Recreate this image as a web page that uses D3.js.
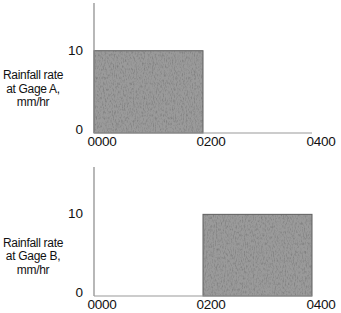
<!DOCTYPE html>
<html>
<head>
<meta charset="utf-8">
<script src="https://cdn.jsdelivr.net/npm/d3@7"></script>
<style>
  body { margin: 0; background: #fff; }
  text { font-family: "Liberation Sans", Arial, sans-serif; fill: #111; }
</style>
</head>
<body>
<div id="vis"></div>
<script>
// tick labels along the time axis (hours)
const timeTicks = [0, 2, 4];
const timeLabels = ["0000", "0200", "0400"];
const rateTicks = [0, 10];

// rainfall blocks: start hour, end hour, rate mm/hr
const gages = ["A", "B"];
const blockStart = [0, 2];
const blockEnd = [2, 4];
const blockRate = [10, 10];

const W = 341, H = 313;
const svg = d3.select("#vis").append("svg")
  .attr("width", W).attr("height", H);

// speckled print texture for the bars
const defs = svg.append("defs");
const f = defs.append("filter").attr("id", "grain")
  .attr("x", 0).attr("y", 0).attr("width", 1).attr("height", 1);
f.append("feTurbulence").attr("type", "fractalNoise")
  .attr("baseFrequency", "0.9 0.35").attr("numOctaves", 2).attr("seed", 3)
  .attr("result", "noise");
f.append("feColorMatrix").attr("in", "noise").attr("type", "matrix")
  .attr("values", "0 0 0 0 0  0 0 0 0 0  0 0 0 0 0  0.8 0 0 0 -0.35")
  .attr("result", "dark");
f.append("feComposite").attr("in", "dark").attr("in2", "SourceGraphic")
  .attr("operator", "atop");

// layout of the two panels
const panels = [
  { top: 3, bottom: 133, titleDy: -12.5 },
  { top: 167, bottom: 296, titleDy: -8.5 }
];

const x = d3.scaleLinear().domain([0, 4]).range([94, 312]);

gages.forEach((g, i) => {
  const p = panels[i];
  const y = d3.scaleLinear().domain([0, 15.8]).range([p.bottom, p.top]);
  const grp = svg.append("g");

  // bar
  grp.append("rect")
    .attr("x", x(blockStart[i]))
    .attr("y", y(blockRate[i]))
    .attr("width", x(blockEnd[i]) - x(blockStart[i]))
    .attr("height", y(0) - y(blockRate[i]))
    .attr("fill", "#9a9a9a")
    .attr("filter", "url(#grain)");
  grp.append("rect")
    .attr("x", x(blockStart[i]))
    .attr("y", y(blockRate[i]))
    .attr("width", x(blockEnd[i]) - x(blockStart[i]))
    .attr("height", y(0) - y(blockRate[i]))
    .attr("fill", "none")
    .attr("stroke", "#5e5e5e")
    .attr("stroke-width", 1);

  // axes lines
  grp.append("line")
    .attr("x1", x(0)).attr("x2", x(0))
    .attr("y1", p.top).attr("y2", p.bottom)
    .attr("stroke", "#888").attr("stroke-width", 1.2);
  grp.append("line")
    .attr("x1", x(0)).attr("x2", x(4))
    .attr("y1", p.bottom).attr("y2", p.bottom)
    .attr("stroke", "#999").attr("stroke-width", 1.2);

  // y tick labels
  grp.selectAll("text.ytick").data(rateTicks).enter().append("text")
    .attr("class", "ytick")
    .attr("x", 83)
    .attr("y", d => y(d) + (d === 0 ? 1 : 4))
    .attr("text-anchor", "end")
    .attr("font-size", 13.5)
    .text(d => d);

  // x tick labels
  grp.selectAll("text.xtick").data(timeTicks).enter().append("text")
    .attr("class", "xtick")
    .attr("x", (d, j) => x(d) + (j === 2 ? 9 : 8))
    .attr("y", p.bottom + 13)
    .attr("text-anchor", "middle")
    .attr("font-size", 13.5)
    .attr("letter-spacing", -0.3)
    .text((d, j) => timeLabels[j]);

  // axis title
  const title = ["Rainfall rate", "at Gage " + g + ",", "mm/hr"];
  const mid = (y(0) + y(10)) / 2 + p.titleDy;
  grp.selectAll("text.ttl").data(title).enter().append("text")
    .attr("class", "ttl")
    .attr("x", 33)
    .attr("y", (d, j) => mid + j * 13.5)
    .attr("text-anchor", "middle")
    .attr("font-size", 12)
    .attr("letter-spacing", -0.3)
    .text(d => d);
});
</script>
</body>
</html>
